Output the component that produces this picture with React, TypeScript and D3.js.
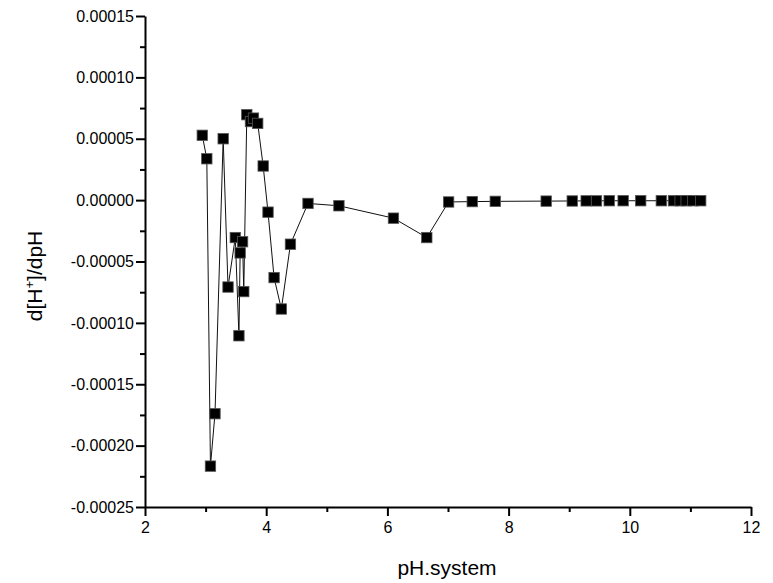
import React, { useRef, useEffect } from 'react';
import * as d3 from 'd3';

// pH readings and derivative
const phSystem = [
  2.945, 3.02, 3.08, 3.155, 3.29, 3.37, 3.49, 3.55, 3.57, 3.61, 3.63, 3.68, 3.74, 3.79,
  3.86, 3.95, 4.03, 4.13, 4.25, 4.40, 4.69, 5.20, 6.10, 6.65, 7.01, 7.40, 7.78, 8.62,
  9.05, 9.28, 9.45, 9.66, 9.89, 10.18, 10.52, 10.72, 10.83, 10.93, 11.04, 11.17,
];
const dHdpH = [
  0.0000528, 0.0000337, -0.0002167, -0.000174, 0.00005, -0.0000708, -0.0000305, -0.0001105,
  -0.000043, -0.0000339, -0.0000745, 0.0000696, 0.000064, 0.0000668, 0.0000625, 0.0000278,
  -0.0000098, -0.0000631, -0.0000887, -0.0000359, -0.0000027, -0.0000046, -0.0000147,
  -0.0000305, -0.0000015, -0.0000012, -0.000001, -0.0000008, -0.0000007, -0.0000006,
  -0.0000006, -0.0000005, -0.0000005, -0.0000005, -0.0000005, -0.0000005, -0.0000005,
  -0.0000005, -0.0000005, -0.0000005,
];
const xTicks = [2, 4, 6, 8, 10, 12];
const xMinorTicks = [3, 5, 7, 9, 11];
const yTicks = [-0.00025, -0.0002, -0.00015, -0.0001, -0.00005, 0, 0.00005, 0.0001, 0.00015];
const yMinorTicks = [-0.000225, -0.000175, -0.000125, -0.000075, -0.000025, 0.000025, 0.000075, 0.000125];

const width = 773;
const height = 583;
const margin = { top: 16, right: 22, bottom: 76, left: 145 };
const font = '"Liberation Sans", Arial, sans-serif';

const fmt = (v: number) => (v < -1e-12 ? '-' : '') + Math.abs(v).toFixed(5);

export default function App() {
  const svgRef = useRef<SVGSVGElement>(null);

  useEffect(() => {
    document.body.style.margin = '0';
    const svg = d3.select(svgRef.current);
    svg.selectAll('*').remove();

    const x = d3.scaleLinear().domain([2, 12]).range([margin.left, width - margin.right]);
    const y = d3.scaleLinear().domain([-0.00025, 0.00015]).range([height - margin.bottom, margin.top]);

    const data = phSystem.map((p, i) => ({ p, v: dHdpH[i] }));

    // minor ticks first, the major axis draws over them
    svg.append('g')
      .attr('transform', `translate(0,${height - margin.bottom})`)
      .call(d3.axisBottom(x).tickValues(xMinorTicks).tickSize(5).tickFormat(() => '').tickSizeOuter(0))
      .call(g => g.select('.domain').remove());
    svg.append('g')
      .attr('transform', `translate(${margin.left},0)`)
      .call(d3.axisLeft(y).tickValues(yMinorTicks).tickSize(5).tickFormat(() => '').tickSizeOuter(0))
      .call(g => g.select('.domain').remove());

    const xAxis = svg.append('g')
      .attr('transform', `translate(0,${height - margin.bottom})`)
      .call(d3.axisBottom(x).tickValues(xTicks).tickSize(9).tickSizeOuter(0).tickPadding(6).tickFormat(d3.format('d')));
    const yAxis = svg.append('g')
      .attr('transform', `translate(${margin.left},0)`)
      .call(d3.axisLeft(y).tickValues(yTicks).tickSize(9).tickSizeOuter(0).tickPadding(2).tickFormat(d => fmt(+d)));

    [xAxis, yAxis].forEach(g => {
      g.selectAll('text').style('font-family', font).style('font-size', '16px').attr('fill', '#000');
      g.selectAll('line,path').attr('stroke', '#000').attr('stroke-width', 2);
    });
    svg.selectAll('g line').attr('stroke', '#000').attr('stroke-width', 2);

    svg.append('text')
      .attr('x', (margin.left + width - margin.right) / 2 - 1)
      .attr('y', 575)
      .attr('text-anchor', 'middle')
      .style('font-family', font)
      .style('font-size', '21px')
      .text('pH.system');

    const yl = svg.append('text')
      .attr('transform', `translate(42,276) rotate(-90)`)
      .attr('text-anchor', 'middle')
      .style('font-family', font)
      .style('font-size', '21px');
    yl.append('tspan').text('d[H');
    yl.append('tspan').attr('dy', -8).style('font-size', '13px').text('+');
    yl.append('tspan').attr('dy', 8).text(']/dpH');

    const line = d3.line<{ p: number; v: number }>().x(d => x(d.p)).y(d => y(d.v));
    svg.append('path')
      .datum(data)
      .attr('d', line)
      .attr('fill', 'none')
      .attr('stroke', '#111')
      .attr('stroke-width', 1);

    svg.selectAll('.pt')
      .data(data)
      .join('rect')
      .attr('class', 'pt')
      .attr('x', d => x(d.p) - 5.2)
      .attr('y', d => y(d.v) - 5.2)
      .attr('width', 10.4)
      .attr('height', 10.4)
      .attr('fill', '#000')
      .attr('stroke', '#555')
      .attr('stroke-width', 0.8);
  }, []);

  return (
    <div>
      <svg ref={svgRef} width={width} height={height} style={{ display: 'block' }} />
    </div>
  );
}
